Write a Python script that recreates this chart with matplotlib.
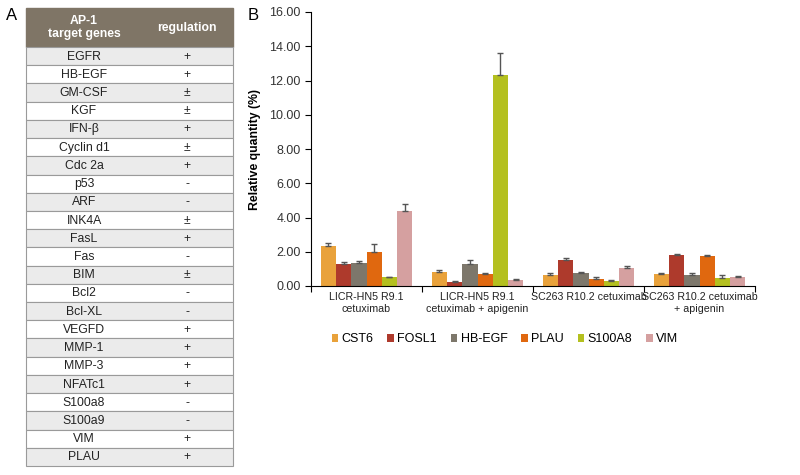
import matplotlib
matplotlib.use("Agg")
from matplotlib import pyplot as plt
from matplotlib.patches import Rectangle
import numpy as np

plt.rcParams['font.family'] = ['Liberation Sans', 'DejaVu Sans']

# panel A table
genes = ['EGFR', 'HB-EGF', 'GM-CSF', 'KGF', 'IFN-β', 'Cyclin d1', 'Cdc 2a', 'p53', 'ARF',
         'INK4A', 'FasL', 'Fas', 'BIM', 'Bcl2', 'Bcl-XL', 'VEGFD', 'MMP-1', 'MMP-3',
         'NFATc1', 'S100a8', 'S100a9', 'VIM', 'PLAU']
regulation = ['+', '+', '±', '±', '+', '±', '+', '-', '-', '±', '+', '-', '±', '-', '-',
              '+', '+', '+', '+', '-', '-', '+', '+']

# panel B bars
groups = ['LICR-HN5 R9.1\ncetuximab', 'LICR-HN5 R9.1\ncetuximab + apigenin',
          'SC263 R10.2 cetuximab', 'SC263 R10.2 cetuximab\n+ apigenin']
series = ['CST6', 'FOSL1', 'HB-EGF', 'PLAU', 'S100A8', 'VIM']
colors = ['#E9A23B', '#AE3A2C', '#7D776B', '#E0680F', '#B4C01F', '#D5A0A0']
values = {
    'CST6':   [2.35, 0.82, 0.64, 0.72],
    'FOSL1':  [1.27, 0.25, 1.50, 1.79],
    'HB-EGF': [1.36, 1.30, 0.74, 0.62],
    'PLAU':   [1.99, 0.68, 0.39, 1.74],
    'S100A8': [0.51, 12.32, 0.29, 0.47],
    'VIM':    [4.37, 0.33, 1.05, 0.55],
}
errors = {
    'CST6':   [0.16, 0.10, 0.09, 0.05],
    'FOSL1':  [0.14, 0.05, 0.12, 0.08],
    'HB-EGF': [0.12, 0.21, 0.10, 0.15],
    'PLAU':   [0.46, 0.06, 0.11, 0.09],
    'S100A8': [0.04, 1.30, 0.04, 0.18],
    'VIM':    [0.40, 0.06, 0.12, 0.05],
}

fig = plt.figure(figsize=(8, 4.75), dpi=100)

# ---- table (pixel coordinates) ----
tab = fig.add_axes([0, 0, 1, 1])
tab.set_xlim(0, 800)
tab.set_ylim(475, 0)
tab.axis('off')
x0, x1 = 26, 233
head_top, head_bot = 8, 47
row_h = (466 - head_bot) / len(genes)
tab.add_patch(Rectangle((x0, head_top), x1 - x0, head_bot - head_top,
                        facecolor='#7F7566', edgecolor='#7F7566'))
tab.text(84, (head_top + head_bot) / 2, 'AP-1\ntarget genes', color='white',
         fontsize=8.8, fontweight='bold', ha='center', va='center', linespacing=1.1)
tab.text(187, (head_top + head_bot) / 2, 'regulation', color='white',
         fontsize=8.8, fontweight='bold', ha='center', va='center')
for i, (g, r) in enumerate(zip(genes, regulation)):
    y = head_bot + i * row_h
    fc = '#EBEBEB' if i % 2 == 0 else 'white'
    tab.add_patch(Rectangle((x0, y), x1 - x0, row_h, facecolor=fc,
                            edgecolor='#9A9A9A', linewidth=0.8))
    tab.text(84, y + row_h / 2 + 0.5, g, fontsize=8.8, ha='center', va='center', color='#222222')
    tab.text(187, y + row_h / 2 + 0.5, r, fontsize=8.8, ha='center', va='center', color='#222222')
tab.text(12, 16, 'A', fontsize=12, ha='center', va='center')
tab.text(253, 16, 'B', fontsize=12, ha='center', va='center')

# ---- bar chart ----
ax = fig.add_axes([311 / 800, 1 - 286 / 475, 444 / 800, 274 / 475])
n = len(series)
w = 0.138
x = np.arange(len(groups))
for j, s in enumerate(series):
    pos = x + (j - (n - 1) / 2) * w
    ax.bar(pos, values[s], w, color=colors[j], label=s,
           yerr=[np.zeros(len(groups)), errors[s]],
           error_kw=dict(ecolor='#555555', elinewidth=1, capsize=2.5, capthick=1))

ax.set_xlim(-0.5, len(groups) - 0.5)
ax.set_ylim(0, 16)
ax.set_yticks(np.arange(0, 17, 2))
ax.set_yticklabels(['%.2f' % v for v in np.arange(0, 17, 2)], fontsize=9, color='#333333')
ax.set_xticks(np.arange(-0.5, len(groups), 1.0))
ax.set_xticklabels([])
ax.set_xticks(x, minor=True)
ax.set_xticklabels(groups, minor=True, fontsize=7.7, color='#222222', linespacing=1.25)
ax.tick_params(axis='x', which='minor', length=0, pad=4)
ax.tick_params(axis='x', which='major', length=4, direction='out')
ax.tick_params(axis='y', length=4, direction='out')
ax.spines['top'].set_visible(False)
ax.spines['right'].set_visible(False)
ax.set_ylabel('Relative quantity (%)', fontsize=8.8, fontweight='bold', labelpad=6)

ax.legend(loc='center', bbox_to_anchor=(0.437, -0.195), ncol=6, frameon=False,
          fontsize=9, handlelength=0.5, handleheight=0.5, handletextpad=0.3,
          columnspacing=1.1)

fig.savefig('out.png', dpi=100)
